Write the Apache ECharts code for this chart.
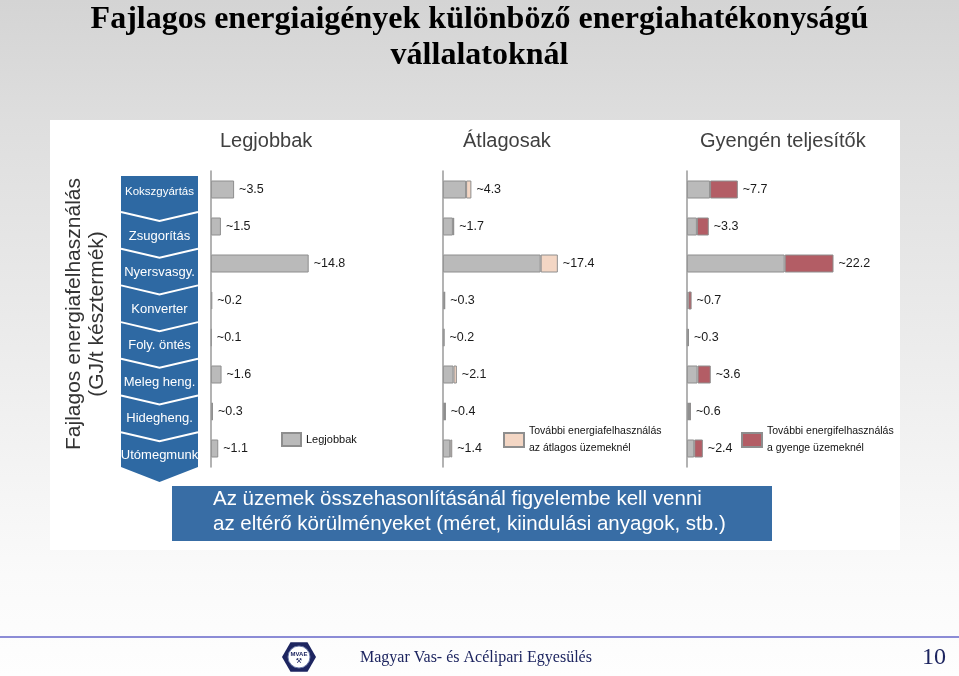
<!DOCTYPE html>
<html><head><meta charset="utf-8">
<script src="https://cdn.jsdelivr.net/npm/echarts@6/dist/echarts.min.js"></script>
<style>html,body{margin:0;padding:0;background:#fff}#c{width:959px;height:676px;}</style>
</head><body><div id="c"></div>
<script>
const categories = ['Kokszgyártás','Zsugorítás','Nyersvasgy.','Konverter','Foly. öntés','Meleg heng.','Hidegheng.','Utómegmunk'];
const bestValues = [3.5, 1.5, 14.8, 0.2, 0.1, 1.6, 0.3, 1.1];
const averageValues = [4.3, 1.7, 17.4, 0.3, 0.2, 2.1, 0.4, 1.4];
const poorValues = [7.7, 3.3, 22.2, 0.7, 0.3, 3.6, 0.6, 2.4];
const panelTitles = ['Legjobbak', 'Átlagosak', 'Gyengén teljesítők'];
const seriesNames = ['Legjobbak', 'További energiafelhasználás\naz átlagos üzemeknél', 'További energifelhasználás\na gyenge üzemeknél'];
const mainTitle = 'Fajlagos energiaigények különböző energiahatékonyságú\nvállalatoknál';
const axisTitle = 'Fajlagos energiafelhasználás\n(GJ/t késztermék)';
const noteText = 'Az üzemek összehasonlításánál figyelembe kell venni\naz eltérő körülményeket (méret, kiindulási anyagok, stb.)';
const footerText = 'Magyar Vas- és Acélipari Egyesülés';
const pageNumber = '10';

const GRAY = '#bababa', BORDER = '#8e8e8e', PEACH = '#f3d6c4', RED = '#b35d65';
const BLUE = '#2e69a3', BLUE2 = '#386da5', NAVY = '#1d2560';

const chart = echarts.init(document.getElementById('c'), null, {renderer: 'canvas'});

const gridLefts = [211, 443, 687];
const titleLefts = [220, 463, 700];
const grids = gridLefts.map(l => ({left: l, top: 171, width: 198, height: 296}));
const xAxes = gridLefts.map((l, i) => ({type: 'value', gridIndex: i, min: 0, max: 30, show: false}));
const yAxes = gridLefts.map((l, i) => ({
  type: 'category', gridIndex: i, data: categories, inverse: true, z: 5,
  axisLine: {show: true, lineStyle: {color: '#9a9a9a', width: 1.5}},
  axisTick: {show: false},
  axisLabel: {show: false},
  splitLine: {show: false}
}));

const lbl = (arr) => ({show: true, position: 'right', distance: 5, color: '#1a1a1a', fontSize: 12.5,
  fontFamily: 'Liberation Sans, Arial', formatter: p => '~' + arr[p.dataIndex].toFixed(1)});
const baseStyle = {color: GRAY, borderColor: BORDER, borderWidth: 1};

const extraAvg = averageValues.map((v, i) => +(v - bestValues[i]).toFixed(1));
const extraPoor = poorValues.map((v, i) => +(v - bestValues[i]).toFixed(1));

const series = [
  {type: 'bar', name: seriesNames[0], xAxisIndex: 0, yAxisIndex: 0, stack: 's0', barWidth: 18, data: bestValues, itemStyle: baseStyle, label: lbl(bestValues)},
  {type: 'bar', name: seriesNames[0], xAxisIndex: 1, yAxisIndex: 1, stack: 's1', barWidth: 18, data: bestValues, itemStyle: baseStyle},
  {type: 'bar', name: seriesNames[1], xAxisIndex: 1, yAxisIndex: 1, stack: 's1', barWidth: 18, data: extraAvg,
    itemStyle: {color: PEACH, borderColor: BORDER, borderWidth: 1}, label: lbl(averageValues)},
  {type: 'bar', name: seriesNames[0], xAxisIndex: 2, yAxisIndex: 2, stack: 's2', barWidth: 18, data: bestValues, itemStyle: baseStyle},
  {type: 'bar', name: seriesNames[2], xAxisIndex: 2, yAxisIndex: 2, stack: 's2', barWidth: 18, data: extraPoor,
    itemStyle: {color: RED, borderColor: BORDER, borderWidth: 1}, label: lbl(poorValues)}
];

const legTxt = {fontSize: 10.5, color: '#111', lineHeight: 17, fontFamily: 'Liberation Sans, Arial'};
const legends = [
  {data: [seriesNames[0]], left: 281, top: 432, padding: 0, icon: 'rect', itemWidth: 19, itemHeight: 13, selectedMode: false, textStyle: Object.assign({}, legTxt, {fontSize: 11, lineHeight: 14})},
  {data: [seriesNames[1]], left: 503, top: 423, padding: 0, icon: 'rect', itemWidth: 20, itemHeight: 14, selectedMode: false, textStyle: legTxt},
  {data: [seriesNames[2]], left: 741, top: 423, padding: 0, icon: 'rect', itemWidth: 20, itemHeight: 14, selectedMode: false, textStyle: legTxt}
];

const titles = panelTitles.map((t, i) => ({text: t, left: titleLefts[i], top: 131, padding: 0,
  textStyle: {fontFamily: 'Liberation Sans, Arial', fontWeight: 'normal', fontSize: 20, color: '#404040'}}));

// decorations
const colL = 121, colR = 198, colM = 159.5;
const graphics = [
  {type: 'rect', z: -2, shape: {x: 50, y: 120, width: 850, height: 430}, style: {fill: '#fff'}},
  {type: 'text', z: 2, x: 479.5, y: 2, style: {text: mainTitle, fill: '#000', font: 'bold 32px Liberation Serif, Times New Roman', lineHeight: 36, align: 'center', verticalAlign: 'top'}},
  {type: 'text', z: 2, x: 86, y: 314, rotation: Math.PI / 2, style: {text: axisTitle, fill: '#333', font: '21px Liberation Sans, Arial', lineHeight: 23, align: 'center', verticalAlign: 'middle'}},
  {type: 'polygon', z: 1, shape: {points: [[colL, 176], [colR, 176], [colR, 467], [colM, 482], [colL, 467]]}, style: {fill: BLUE}}
];
for (let k = 1; k < categories.length; k++) {
  const b = 213 + 36.7 * (k - 1);
  graphics.push({type: 'polyline', z: 2, shape: {points: [[colL, b - 1], [colM, b + 8], [colR, b - 1]]}, style: {stroke: '#fff', lineWidth: 2, fill: null}});
}
categories.forEach((c, k) => {
  const y = k === 0 ? 192 : 236 + 36.5 * (k - 1);
  const fs = c.length > 11 ? 11.5 : 13;
  graphics.push({type: 'text', z: 3, x: colM, y: y, style: {text: c, fill: '#fff', font: fs + 'px Liberation Sans, Arial', align: 'center', verticalAlign: 'middle'}});
});
graphics.push(
  {type: 'rect', z: 1, shape: {x: 172, y: 486, width: 600, height: 55}, style: {fill: BLUE2}},
  {type: 'text', z: 2, x: 213, y: 487, style: {text: noteText, fill: '#fff', font: '20.5px Liberation Sans, Arial', lineHeight: 25, verticalAlign: 'top'}},
  {type: 'line', z: 1, shape: {x1: 0, y1: 637, x2: 959, y2: 637}, style: {stroke: '#8c8cd6', lineWidth: 2}},
  {type: 'polygon', z: 1, shape: {points: [[316, 657], [307.5, 671.7], [290.5, 671.7], [282, 657], [290.5, 642.3], [307.5, 642.3]]}, style: {fill: NAVY}},
  {type: 'circle', z: 2, shape: {cx: 299, cy: 657, r: 11}, style: {fill: '#fff', stroke: '#6a78a8', lineWidth: 1}},
  {type: 'text', z: 3, x: 299, y: 654, style: {text: 'MVAE', fill: NAVY, font: 'bold 6px Liberation Sans, Arial', align: 'center', verticalAlign: 'middle'}},
  {type: 'text', z: 3, x: 299, y: 661, style: {text: '⚒', fill: NAVY, font: '7px DejaVu Sans', align: 'center', verticalAlign: 'middle'}},
  {type: 'text', z: 2, x: 360, y: 658, style: {text: footerText, fill: NAVY, font: '16px Liberation Serif, Times New Roman', verticalAlign: 'middle'}},
  {type: 'text', z: 2, x: 946, y: 658, style: {text: pageNumber, fill: NAVY, font: '24px Liberation Serif, Times New Roman', align: 'right', verticalAlign: 'middle'}}
);

chart.setOption({
  animation: false,
  backgroundColor: {type: 'linear', x: 0, y: 0, x2: 0, y2: 1, colorStops: [
    {offset: 0, color: '#d4d4d4'}, {offset: 0.18, color: '#dedede'}, {offset: 0.85, color: '#fafafa'}, {offset: 1, color: '#fefefe'}]},
  title: titles,
  legend: legends,
  grid: grids,
  xAxis: xAxes,
  yAxis: yAxes,
  series: series,
  graphic: {elements: graphics}
});
</script></body></html>
